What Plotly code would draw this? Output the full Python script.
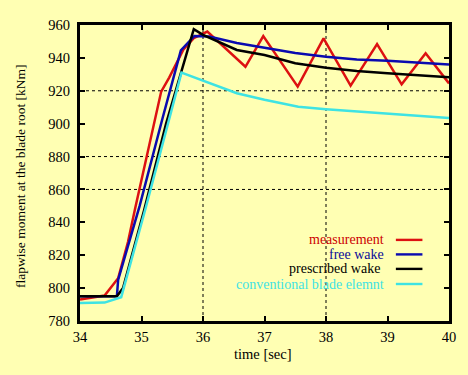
import plotly.graph_objects as go

# ---- data ----
meas_t = [34.0, 34.4, 34.62, 34.78, 34.9, 35.22, 35.32, 35.45, 35.55, 35.68, 35.85, 36.07,
          36.69, 36.98, 37.54, 37.96, 38.40, 38.83, 39.23, 39.62, 40.0]
meas_v = [793, 795.5, 806, 828, 849, 902, 919.5, 928, 935, 945, 952, 956,
          934.6, 953.3, 922.5, 951.9, 923.1, 948.4, 923.9, 942.8, 924.5]

free_t = [34.0, 34.6, 34.62, 34.97, 35.34, 35.64, 35.86, 36.1, 36.55, 37.0, 37.5, 38.0, 38.5, 39.0, 39.5, 40.0]
free_v = [795, 795, 805, 850, 903, 944.5, 953.3, 953, 949, 946, 943, 940.7, 939, 938.3, 937, 936]

pres_t = [34.0, 34.6, 34.7, 35.04, 35.4, 35.85, 36.0, 36.55, 37.0, 37.5, 38.0, 38.5, 39.0, 39.5, 40.0]
pres_v = [795, 795, 800, 847, 900, 957.5, 954, 944.8, 941.8, 936.7, 934, 932, 930.6, 929.5, 928.3]

conv_t = [34.0, 34.4, 34.67, 35.07, 35.65, 36.0, 36.55, 37.0, 37.55, 38.0, 39.0, 40.0]
conv_v = [791, 791.2, 794.5, 849, 931, 926, 918.5, 914.5, 910.3, 908.8, 906, 903.5]

series_names = ["measurement", "free wake", "prescribed wake ", "conventional blade elemnt"]
line_colors = ["#DD1111", "#0A0AB0", "#000000", "#3EE3E3"]
text_colors = ["#CC0000", "#0A0A99", "#000000", "#3EE3E3"]

x_ticks = [34, 35, 36, 37, 38, 39, 40]
y_ticks = [780, 800, 820, 840, 860, 880, 900, 920, 940, 960]
x_grid = [36, 38]
y_grid = [920, 880, 860]

BG = "#FFFFB3"
FONT = "Liberation Serif"

fig = go.Figure()
for (t, v), col, name in zip([(meas_t, meas_v), (free_t, free_v), (pres_t, pres_v), (conv_t, conv_v)],
                             line_colors, series_names):
    fig.add_trace(go.Scatter(x=t, y=v, mode="lines", name=name,
                             line=dict(color=col, width=2.5), showlegend=False))

shapes = []
for gx in x_grid:
    shapes.append(dict(type="line", xref="x", yref="y", x0=gx, x1=gx, y0=780, y1=960,
                       line=dict(color="black", width=1, dash="dot"), layer="below"))
for gy in y_grid:
    shapes.append(dict(type="line", xref="x", yref="y", x0=34, x1=40, y0=gy, y1=gy,
                       line=dict(color="black", width=1, dash="dot"), layer="below"))

annotations = []
leg_y = [0.274, 0.225, 0.176, 0.125]
for name, lc, tc, ly in zip(series_names, line_colors, text_colors, leg_y):
    annotations.append(dict(xref="paper", yref="paper", x=0.830, y=ly, text=name,
                            showarrow=False, xanchor="right", yanchor="middle",
                            font=dict(family=FONT, size=14, color=tc)))
    shapes.append(dict(type="line", xref="paper", yref="paper", x0=0.856, x1=0.928, y0=ly, y1=ly,
                       line=dict(color=lc, width=2.4)))

annotations.append(dict(xref="paper", yref="paper", x=-0.16, y=0.49,
                        text="flapwise moment at the blade root [kNm]", textangle=-90,
                        showarrow=False, xanchor="center", yanchor="middle",
                        font=dict(family=FONT, size=13.5, color="black")))
annotations.append(dict(xref="paper", yref="paper", x=0.495, y=-0.112,
                        text="time [sec]", showarrow=False, xanchor="center", yanchor="middle",
                        font=dict(family=FONT, size=14.5, color="black")))

fig.update_layout(
    width=468, height=375,
    margin=dict(l=80, r=12, t=25, b=54),
    paper_bgcolor=BG, plot_bgcolor=BG,
    font=dict(family=FONT, size=14.5, color="black"),
    shapes=shapes, annotations=annotations,
)
fig.update_xaxes(range=[34, 40], tickvals=x_ticks, ticktext=[str(v) for v in x_ticks],
                 showgrid=False, zeroline=False, showline=True, linewidth=3, linecolor="black",
                 mirror="allticks", ticks="inside", ticklen=5, tickwidth=2, tickcolor="black",
                 tickfont=dict(family=FONT, size=14.5), ticklabelstandoff=1)
fig.update_yaxes(range=[780, 960], tickvals=y_ticks, ticktext=[str(v) for v in y_ticks],
                 showgrid=False, zeroline=False, showline=True, linewidth=3, linecolor="black",
                 mirror="allticks", ticks="inside", ticklen=5, tickwidth=2, tickcolor="black",
                 tickfont=dict(family=FONT, size=14.5), ticklabelstandoff=4)

fig.write_html("out.html", config={"displayModeBar": False},
               post_script="document.body.style.margin='0px';document.body.style.background='" + BG + "';")
